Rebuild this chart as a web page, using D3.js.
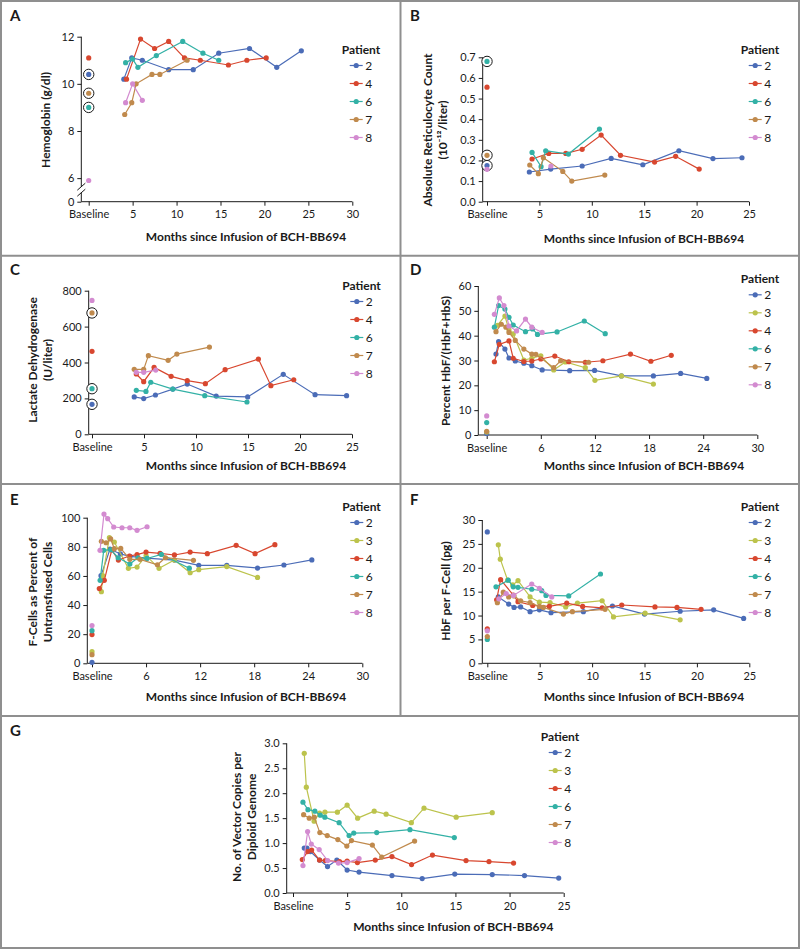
<!DOCTYPE html>
<html><head><meta charset="utf-8">
<script src="https://cdn.jsdelivr.net/npm/d3@7"></script>
<style>
body{margin:0;background:#fff}
svg{display:block}
text{font-family:Lato,"Open Sans",sans-serif;fill:#1a1a1a}
.tick text{font-size:11px}
.ttl{font-size:12px;font-weight:bold}
.lbl{font-size:15px;font-weight:bold}
.leg{font-size:12px}
</style>
</head><body>
<svg id="chart" width="800" height="949"></svg>
<script>
const patients = ["2","3","4","6","7","8"];
const patientColors = {"2":"#4b6cb7","3":"#bcc34c","4":"#d8472f","6":"#33b1a6","7":"#c08a4d","8":"#d38bd0"};
const xTitle = "Months since Infusion of BCH-BB694";

// Panel A: Hemoglobin
const hgbBaseline = {"2":10.4,"4":11.1,"6":9.0,"7":9.6,"8":5.9};
const hgbCircled = ["2","6","7"];
const hgb = {
 "2":[[4.0,10.2],[4.9,11.1],[6.1,11.0],[9.1,10.6],[11.9,10.6],[14.8,11.3],[18.3,11.5],[21.4,10.7],[24.2,11.4]],
 "4":[[4.3,10.2],[5.9,11.9],[7.5,11.5],[9.1,11.8],[10.9,11.1],[12.7,11.0],[15.9,10.8],[18.0,11.0],[20.2,11.1]],
 "6":[[4.2,10.9],[5.0,11.05],[5.6,10.7],[7.7,11.2],[10.7,11.8],[13.0,11.3],[14.8,11.0]],
 "7":[[4.1,8.7],[4.9,9.2],[5.4,10.0],[7.2,10.4],[8.1,10.4],[11.2,11.0]],
 "8":[[4.2,9.2],[5.0,10.0],[6.1,9.3]]
};
// Panel B: Reticulocytes
const retBaseline = {"2":0.175,"4":0.555,"6":0.68,"7":0.225,"8":0.157};
const retCircled = ["2","6","7"];
const ret = {
 "2":[[4.04,0.144],[6.08,0.158],[9.08,0.173],[11.85,0.21],[14.87,0.179],[18.31,0.247],[21.56,0.209],[24.33,0.213]],
 "4":[[4.3,0.207],[5.89,0.234],[7.52,0.234],[9.08,0.254],[10.89,0.323],[12.74,0.225],[15.99,0.192],[18.0,0.22],[20.25,0.158]],
 "6":[[4.3,0.239],[5.16,0.17],[5.6,0.247],[7.77,0.231],[10.73,0.352]],
 "7":[[4.08,0.178],[4.9,0.136],[5.38,0.213],[7.23,0.147],[8.09,0.1],[11.24,0.129]],
 "8":[[6.1,0.173]]
};
// Panel C: LDH
const ldhBaseline = {"2":167,"4":462,"6":254,"7":676,"8":746};
const ldhCircled = ["2","6","7"];
const ldh = {
 "2":[[4.06,208],[4.97,199],[6.1,219],[7.77,252],[9.16,280],[11.94,213],[14.97,208],[18.39,334],[21.45,221],[24.48,215]],
 "4":[[4.26,336],[4.97,293],[5.97,373],[7.61,323],[9.16,299],[10.9,282],[12.8,360],[16.0,419],[17.2,271],[19.4,304]],
 "6":[[4.26,245],[5.19,239],[5.65,290],[7.77,252],[10.84,215],[14.9,180]],
 "7":[[4.06,362],[4.97,362],[5.42,438],[7.32,412],[8.16,447],[11.29,486]],
 "8":[[4.26,345],[4.97,345],[6.13,358]]
};
// Panel D: Percent HbF
const hbfBaseline = {"2":0.6,"3":1.2,"6":5.0,"7":1.5,"8":7.7};
const hbf = {
 "2":[[1.03,32.6],[1.32,37.6],[2.02,34.6],[2.47,31.0],[3.17,29.8],[4.12,28.9],[5.0,27.9],[6.15,26.2],[9.2,25.9],[11.96,26.0],[14.94,23.8],[18.48,23.8],[21.5,24.8],[24.4,22.8]],
 "3":[[1.2,44.2],[2.02,47.9],[2.47,42.3],[2.94,40.7],[4.12,30.2],[5.0,30.9],[6.0,31.9],[7.43,26.2],[8.72,29.4],[10.93,27.1],[12.0,22.0],[14.94,23.8],[18.48,20.5]],
 "4":[[0.85,29.5],[1.4,36.5],[2.47,37.9],[2.94,30.9],[4.12,29.6],[5.0,29.8],[6.0,30.6],[7.55,31.8],[9.09,29.5],[10.93,29.3],[12.88,29.9],[15.94,32.6],[18.2,29.7],[20.46,32.1]],
 "6":[[0.85,43.4],[1.32,52.1],[2.02,50.7],[2.47,47.4],[2.94,44.3],[4.3,41.6],[5.08,42.7],[5.63,40.5],[7.8,41.5],[10.82,45.9],[13.14,40.8]],
 "7":[[1.03,41.6],[1.62,44.6],[2.13,43.4],[2.47,41.3],[3.17,38.1],[4.12,34.6],[5.0,32.6],[5.45,32.5],[7.43,27.1],[8.2,29.9],[11.3,29.3]],
 "8":[[0.85,48.6],[1.4,55.2],[1.91,52.1],[2.47,43.9],[3.31,41.9],[4.3,46.7],[5.0,43.4],[6.15,41.3]]
};
// Panel E: F-cells
const fcBaseline = {"2":0.7,"3":8.0,"4":19.7,"6":22.4,"7":5.9,"8":25.9};
const fc = {
 "2":[[1.0,60.2],[2.0,78.5],[3.15,75.1],[4.22,73.5],[6.07,72.3],[9.15,70.9],[11.85,67.3],[14.96,67.3],[18.37,65.4],[21.3,67.5],[24.4,71.0]],
 "3":[[1.04,49.2],[1.19,60.2],[1.93,86.3],[2.48,83.3],[4.04,65.2],[5.0,66.1],[6.0,74.0],[7.44,65.2],[9.15,70.9],[10.89,62.2],[11.85,64.3],[14.96,66.4],[18.37,59.0]],
 "4":[[0.81,51.3],[1.37,57.0],[2.19,77.8],[2.93,70.9],[4.15,73.7],[5.0,74.6],[6.0,76.4],[7.55,75.5],[9.15,74.4],[10.89,76.4],[12.8,75.3],[16.0,81.0],[18.1,75.3],[20.3,81.5]],
 "6":[[0.9,57.0],[1.3,77.6],[2.1,78.0],[2.9,72.5],[4.2,68.2],[5.1,72.5],[6.1,72.0],[7.7,74.8],[10.8,65.3]],
 "7":[[1.04,83.8],[1.56,82.8],[2.07,85.4],[2.48,78.7],[3.19,78.9],[4.2,71.4],[5.33,71.4],[7.26,67.7],[8.15,72.5],[11.26,70.7]],
 "8":[[0.89,77.6],[1.33,102.5],[1.74,99.3],[2.41,93.6],[3.33,93.1],[4.19,93.1],[5.0,91.3],[6.11,93.8]]
};
// Panel F: HbF per F-cell
const hpfBaseline = {"2":27.5,"4":7.2,"6":5.0,"7":5.6,"8":6.8};
const hpf = {
 "2":[[1.05,13.9],[2.04,12.4],[2.55,11.7],[3.18,11.8],[4.08,10.8],[4.97,11.2],[6.08,10.6],[9.17,10.8],[11.94,12.0],[15.0,10.3],[18.4,10.9],[21.6,11.2],[24.46,9.4]],
 "3":[[1.05,24.8],[1.24,21.8],[1.94,17.4],[2.42,16.4],[2.93,17.3],[4.08,13.9],[4.97,12.8],[5.99,12.7],[7.48,11.8],[8.6,12.6],[10.96,13.1],[12.04,9.7],[15.06,10.5],[18.4,9.1]],
 "4":[[0.89,13.3],[1.27,17.5],[2.48,14.3],[2.93,12.9],[4.33,12.1],[5.92,11.9],[7.58,12.6],[9.1,11.9],[10.96,11.6],[12.83,12.2],[16.0,11.8],[18.1,11.7],[20.4,11.3]],
 "6":[[0.83,16.0],[2.0,17.4],[2.48,16.0],[2.93,15.9],[4.24,15.5],[5.19,15.2],[5.6,14.2],[7.77,14.1],[10.8,18.7]],
 "7":[[0.96,12.7],[1.53,14.9],[2.04,13.9],[2.55,14.1],[3.18,13.1],[4.08,12.7],[4.97,11.9],[5.35,11.7],[7.26,10.3],[8.12,10.8],[11.24,11.3]],
 "8":[[1.1,13.5],[1.8,14.6],[2.5,14.2],[4.24,16.6],[4.97,15.7],[6.15,13.9]]
};
// Panel G: Vector copies
const vcn = {
 "2":[[1.04,0.9],[1.29,0.9],[1.6,0.83],[2.45,0.66],[3.19,0.53],[4.05,0.66],[5.0,0.46],[6.1,0.42],[9.14,0.35],[11.93,0.29],[14.94,0.38],[18.4,0.37],[21.38,0.35],[24.54,0.3]],
 "3":[[1.04,2.8],[1.23,2.12],[1.95,1.44],[2.45,1.6],[2.95,1.62],[4.1,1.62],[5.0,1.76],[5.97,1.5],[7.5,1.64],[8.6,1.58],[10.93,1.41],[12.1,1.7],[15.07,1.52],[18.4,1.61]],
 "4":[[0.86,0.67],[1.35,0.83],[1.72,0.86],[2.45,0.66],[2.98,0.65],[4.3,0.63],[5.0,0.64],[5.95,0.61],[7.6,0.66],[9.14,0.73],[10.95,0.57],[12.88,0.76],[15.98,0.65],[18.1,0.63],[20.37,0.6]],
 "6":[[0.92,1.82],[1.38,1.67],[2.02,1.64],[2.52,1.56],[2.94,1.52],[4.26,1.41],[5.18,1.15],[5.61,1.2],[7.73,1.21],[10.8,1.27],[14.9,1.11]],
 "7":[[0.98,1.57],[1.5,1.5],[1.96,1.52],[2.48,1.21],[3.16,1.15],[4.14,1.07],[4.97,0.94],[5.4,1.05],[7.33,0.96],[8.19,0.72],[11.23,1.04]],
 "8":[[0.92,0.55],[1.35,1.23],[1.69,0.98],[2.42,0.87],[3.2,0.65],[4.2,0.6],[5.0,0.61],[6.1,0.69]]
};

const svg = d3.select("#chart");

// frame
const frameColor = "#8f8f8f";
svg.append("rect").attr("x",1).attr("y",1).attr("width",798).attr("height",947)
  .attr("fill","none").attr("stroke",frameColor).attr("stroke-width",2);
[255.7,484,716].forEach(yy => svg.append("line").attr("x1",0).attr("x2",800).attr("y1",yy).attr("y2",yy)
  .attr("stroke",frameColor).attr("stroke-width",2));
svg.append("line").attr("x1",400.5).attr("x2",400.5).attr("y1",0).attr("y2",716)
  .attr("stroke",frameColor).attr("stroke-width",2);

function drawPanel(cfg, series, baseline, circled) {
  const g = svg.append("g");
  const x = d3.scaleLinear().domain([0, cfg.xMax]).range([cfg.x0, cfg.xEnd]);
  const y = d3.scaleLinear().domain([cfg.yMin, cfg.yMax]).range([cfg.yBot, cfg.yTop]);

  const xa = g.append("g").attr("transform", `translate(0,${cfg.yBot})`)
    .call(d3.axisBottom(x).tickValues(cfg.xTicks).tickSize(4).tickSizeOuter(0).tickPadding(5)
      .tickFormat(d => d === 0 ? "Baseline" : d));
  xa.select(".domain").attr("d", `M${cfg.yAxisX},0H${cfg.xEnd}`);

  const ya = g.append("g").attr("transform", `translate(${cfg.yAxisX},0)`)
    .call(d3.axisLeft(y).tickValues(cfg.yTicks).tickSize(4).tickSizeOuter(0).tickPadding(3)
      .tickFormat(cfg.yFmt));
  if (cfg.broken) {
    const b1 = cfg.yBot - 15, b2 = cfg.yBot - 9;
    ya.select(".domain").attr("d", `M0,${cfg.yTop}V${b1}M0,${b2}V${cfg.yBot}`);
    [b1, b2].forEach(bb => ya.append("line").attr("x1",-4).attr("x2",4)
      .attr("y1", bb + 3.5).attr("y2", bb - 3.5).attr("stroke","#1a1a1a").attr("stroke-width",1));
  } else {
    ya.select(".domain").attr("d", `M0,${cfg.yTop}V${cfg.yBot}`);
  }
  [xa, ya].forEach(a => {
    a.attr("font-family", null).attr("font-size", null).attr("color", "#1a1a1a");
    a.selectAll("path,line").attr("stroke-width", 1);
  });

  // panel letter
  g.append("text").attr("class","lbl").attr("x", cfg.lx).attr("y", cfg.ly)
    .attr("dominant-baseline","central").text(cfg.label);

  // axis titles
  g.append("text").attr("class","ttl").attr("x", cfg.xtX).attr("y", cfg.xtY)
    .attr("text-anchor","middle").attr("dominant-baseline","central").text(xTitle);
  cfg.yTitle.forEach((t, i) => {
    const tx = cfg.ytX + i * 15;
    g.append("text").attr("class","ttl")
      .attr("transform", `translate(${tx},${cfg.ytY}) rotate(-90)`)
      .attr("text-anchor","middle").attr("dominant-baseline","central").text(t);
  });

  const keys = patients.filter(p => series[p]);
  const line = d3.line().x(d => x(d[0])).y(d => y(d[1]));

  // baseline markers
  if (baseline) {
    (circled || []).forEach(p => {
      g.append("circle").attr("cx", x(0)).attr("cy", y(baseline[p])).attr("r", 5.2)
        .attr("fill","#fff").attr("stroke","#1a1a1a").attr("stroke-width",1);
    });
    patients.filter(p => baseline[p] !== undefined).forEach(p => {
      g.append("circle").attr("cx", x(0)).attr("cy", y(baseline[p])).attr("r", 2.6)
        .attr("fill", patientColors[p]);
    });
  }

  keys.forEach(p => {
    const data = series[p];
    g.append("path").datum(data).attr("d", line).attr("fill","none")
      .attr("stroke", patientColors[p]).attr("stroke-width", 1.2);
    g.selectAll(null).data(data).enter().append("circle")
      .attr("cx", d => x(d[0])).attr("cy", d => y(d[1])).attr("r", 2.6)
      .attr("fill", patientColors[p]);
  });

  // legend
  const lg = g.append("g").attr("transform", `translate(${cfg.legX},${cfg.legY})`);
  lg.append("text").attr("class","ttl").attr("x",0).attr("y",0)
    .attr("dominant-baseline","central").text("Patient");
  keys.forEach((p, i) => {
    const yy = 16.5 + i * 18;
    lg.append("line").attr("x1", 8).attr("x2", 21).attr("y1", yy).attr("y2", yy)
      .attr("stroke", patientColors[p]).attr("stroke-width", 1.2);
    lg.append("circle").attr("cx", 14.5).attr("cy", yy).attr("r", 2.6).attr("fill", patientColors[p]);
    lg.append("text").attr("class","leg").attr("x", 23.5).attr("y", yy)
      .attr("dominant-baseline","central").text(p);
  });
}

const m5 = [0,5,10,15,20,25];
const m5to30 = [0,5,10,15,20,25,30];
const m6 = [0,6,12,18,24,30];

drawPanel({label:"A", lx:10, ly:15, yAxisX:81.3, x0:88.7, xMax:30, xEnd:352.3, xTicks:m5to30,
  yMin:5, yMax:12, yBot:201.7, yTop:36.7, yTicks:[5,6,8,10,12], yFmt:d => d === 5 ? "0" : d, broken:true,
  yTitle:["Hemoglobin (g/dl)"], ytX:45, ytY:120, xtX:246, xtY:236, legX:341.7, legY:49},
  hgb, hgbBaseline, hgbCircled);

drawPanel({label:"B", lx:410, ly:15, yAxisX:482.7, x0:487, xMax:25, xEnd:749, xTicks:m5,
  yMin:0, yMax:0.7, yBot:201.7, yTop:57.3, yTicks:[0,0.1,0.2,0.3,0.4,0.5,0.6,0.7], yFmt:d3.format(".1f"),
  yTitle:["Absolute Reticulocyte Count","(10\u207B\u00B9\u00B2/liter)"], ytX:427, ytY:130, xtX:644, xtY:238, legX:740.7, legY:49},
  ret, retBaseline, retCircled);

drawPanel({label:"C", lx:10, ly:268.5, yAxisX:88.7, x0:92, xMax:25, xEnd:352, xTicks:m5,
  yMin:0, yMax:800, yBot:434.3, yTop:290.7, yTicks:[0,200,400,600,800], yFmt:d => d,
  yTitle:["Lactate Dehydrogenase","(U/liter)"], ytX:32, ytY:360, xtX:246, xtY:465, legX:342.3, legY:285},
  ldh, ldhBaseline, ldhCircled);

drawPanel({label:"D", lx:410, ly:269, yAxisX:478.3, x0:486.7, xMax:30, xEnd:757.3, xTicks:m6,
  yMin:0, yMax:60, yBot:435, yTop:286, yTicks:[0,10,20,30,40,50,60], yFmt:d => d,
  yTitle:["Percent HbF/(HbF+HbS)"], ytX:445, ytY:361, xtX:644, xtY:465, legX:740.7, legY:278.3},
  hbf, hbfBaseline, []);

drawPanel({label:"E", lx:10, ly:498.7, yAxisX:87.3, x0:92, xMax:30, xEnd:362.3, xTicks:m6,
  yMin:0, yMax:100, yBot:663.3, yTop:517.7, yTicks:[0,20,40,60,80,100], yFmt:d => d,
  yTitle:["F-Cells as Percent of","Untransfused Cells"], ytX:32, ytY:592, xtX:246, xtY:696.7, legX:342.3, legY:506},
  fc, fcBaseline, []);

drawPanel({label:"F", lx:410, ly:498.7, yAxisX:482.3, x0:487.3, xMax:25, xEnd:749.3, xTicks:m5,
  yMin:0, yMax:30, yBot:663.3, yTop:520, yTicks:[0,5,10,15,20,25,30], yFmt:d => d,
  yTitle:["HbF per F-Cell (pg)"], ytX:445, ytY:591, xtX:644, xtY:696.7, legX:740.7, legY:506},
  hpf, hpfBaseline, []);

drawPanel({label:"G", lx:10, ly:730, yAxisX:286.7, x0:293, xMax:25, xEnd:563.7, xTicks:m5,
  yMin:0, yMax:3, yBot:893, yTop:743.3, yTicks:[0,0.5,1,1.5,2,2.5,3], yFmt:d3.format(".1f"),
  yTitle:["No. of Vector Copies per","Diploid Genome"], ytX:236, ytY:817, xtX:453.3, xtY:926.7, legX:540.7, legY:736},
  vcn, null, []);
</script>
</body></html>
